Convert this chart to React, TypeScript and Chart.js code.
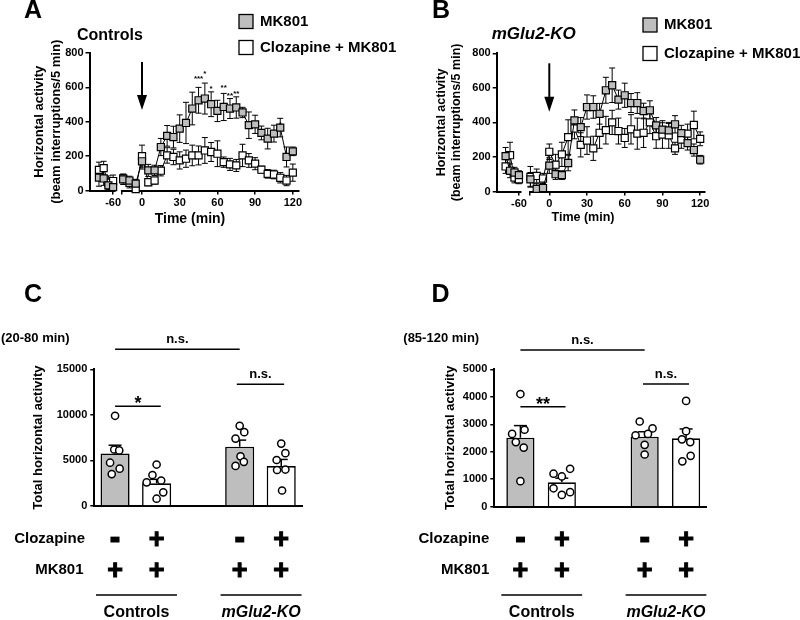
import React, { useEffect, useRef } from 'react';
import { Chart, registerables } from 'chart.js';

Chart.register(...registerables);

const FONT = "'Liberation Sans', Arial, Helvetica, sans-serif";
Chart.defaults.font.family = FONT;
Chart.defaults.color = '#000';

const GRAY = '#bebebe';
const WHITE = '#ffffff';

// ---------------- Panels A & B : time course ----------------
const preTimes = [-75, -70, -65, -60];
const mainTimes = [-15, -10, -5, 0, 5, 10, 15, 20, 25, 30, 35, 40, 45, 50, 55, 60, 65, 70, 75, 80, 85, 90, 95, 100, 105, 110, 115, 120];
const preTicks = [-60];
const timeTicks = [0, 30, 60, 90, 120];
const activityTicks = [0, 200, 400, 600, 800];
const legendLabels = ['MK801', 'Clozapine + MK801'];

// Controls (A)
const ctlMkPre = [75, 70, 30, 20];
const ctlMkPreSem = [50, 40, 35, 30];
const ctlClzPre = [120, 130, 45, 55];
const ctlClzPreSem = [45, 40, 40, 35];
const ctlMk = [65, 58, 40, 170, 117, 117, 253, 318, 311, 360, 393, 477, 525, 535, 502, 463, 486, 477, 483, 454, 380, 385, 335, 302, 331, 366, 195, 228];
const ctlMkSem = [30, 25, 25, 45, 35, 30, 50, 60, 63, 80, 120, 95, 75, 90, 72, 62, 79, 58, 62, 30, 77, 53, 40, 60, 49, 54, 58, 25];
const ctlClz = [70, 45, 8, 200, 48, 58, 115, 204, 195, 175, 185, 204, 204, 233, 224, 214, 165, 152, 146, 204, 175, 156, 121, 97, 93, 74, 58, 104];
const ctlClzSem = [25, 30, 20, 64, 20, 20, 30, 45, 45, 50, 50, 60, 55, 75, 55, 75, 30, 35, 35, 65, 40, 35, 20, 25, 25, 30, 30, 50];
const starTimes = [45, 50, 55, 65, 70, 75, 110];
const starLevels = [648, 680, 590, 595, 550, 565, 385];
const starMarks = ['***', '*', '*', '**', '**', '**', '*'];

// mGlu2-KO (B)
const koMkPre = [205, 120, 110, 95];
const koMkPreSem = [50, 40, 30, 25];
const koClzPre = [145, 210, 80, 70];
const koClzPreSem = [40, 75, 30, 25];
const koMk = [70, 15, 20, 150, 100, 95, 165, 412, 373, 489, 489, 450, 586, 615, 532, 557, 512, 512, 466, 470, 383, 358, 354, 389, 338, 280, 240, 184];
const koMkSem = [40, 30, 25, 45, 30, 25, 45, 60, 55, 70, 65, 60, 75, 100, 55, 70, 55, 60, 45, 55, 45, 40, 40, 50, 45, 40, 35, 25];
const koClz = [85, 90, 75, 230, 155, 215, 315, 365, 270, 295, 250, 340, 355, 400, 350, 310, 360, 335, 340, 400, 320, 330, 325, 250, 300, 335, 385, 305];
const koClzSem = [60, 40, 30, 45, 60, 70, 100, 60, 70, 80, 70, 90, 80, 70, 75, 55, 85, 90, 85, 65, 70, 80, 75, 35, 50, 55, 80, 40];

// ---------------- Panels C & D : totals ----------------
const barGroups = ['Controls MK801', 'Controls Clozapine + MK801', 'mGlu2-KO MK801', 'mGlu2-KO Clozapine + MK801'];
const groupSlots = [0, 1, 3, 4];
const barFills = [GRAY, WHITE, GRAY, WHITE];
const rowLabels = ['Clozapine', 'MK801'];
const clozapineSigns = ['-', '+', '-', '+'];
const mk801Signs = ['+', '+', '+', '+'];
const genotypeLabels = ['Controls', 'mGlu2-KO'];

const meanC = [5770, 2485, 6500, 4380];
const semC = [900, 440, 730, 730];
const dotsC = [
  [9900, 6200, 6100, 4750, 4100, 3500],
  [4550, 3400, 2800, 2600, 1500, 800],
  [8800, 8100, 7400, 5450, 4850, 4400],
  [6850, 5800, 5050, 4000, 3950, 1700],
];
const yTicksC = [0, 5000, 10000, 15000];
const bracketFromC = [0, 0, 2.93];
const bracketToC = [3, 1.1, 4.07];
const bracketLevelC = [17190, 10950, 13360];
const bracketLabelC = ['n.s.', '*', 'n.s.'];

const meanD = [2511, 888, 2548, 2489];
const semD = [440, 150, 180, 340];
const dotsD = [
  [4100, 2800, 2650, 2350, 2150, 930],
  [1380, 1200, 1100, 670, 530, 430],
  [3100, 2850, 2650, 2600, 2250, 1900],
  [3850, 2750, 2450, 2350, 1850, 1650],
];
const yTicksD = [0, 1000, 2000, 3000, 4000, 5000];
const bracketFromD = [0, 0, 2.96];
const bracketToD = [3, 1.09, 4.07];
const bracketLevelD = [5703, 3639, 4465];
const bracketLabelD = ['n.s.', '**', 'n.s.'];

// horizontal scatter of the individual dots inside a bar (layout only)
const jitterC = [
  [0, -0.02, 0.1, -0.12, 0.11, -0.08],
  [0, -0.1, 0.11, -0.24, 0.16, 0],
  [0, 0.11, -0.1, 0.02, 0.1, -0.1],
  [0, 0.1, -0.11, 0.1, -0.1, 0.02],
];
const jitterD = [
  [0, 0.1, -0.2, -0.11, 0.08, 0],
  [0.2, -0.2, 0, -0.2, 0.2, 0],
  [-0.12, 0.19, 0.08, -0.22, 0, 0],
  [0, 0, -0.1, 0.1, 0.11, -0.09],
];

// ---------------- helpers ----------------
type TextOpt = { size: number; bold?: boolean; italic?: boolean; align?: CanvasTextAlign; baseline?: CanvasTextBaseline; rot?: number; thicken?: number };
function drawText(ctx: CanvasRenderingContext2D, s: string, x: number, y: number, o: TextOpt) {
  ctx.save();
  ctx.font = `${o.italic ? 'italic ' : ''}${o.bold === false ? 'normal' : 'bold'} ${o.size}px ${FONT}`;
  ctx.fillStyle = '#000';
  ctx.textAlign = o.align || 'left';
  ctx.textBaseline = o.baseline || 'alphabetic';
  ctx.translate(x, y);
  if (o.rot) ctx.rotate(o.rot);
  ctx.fillText(s, 0, 0);
  if (o.thicken) {
    ctx.strokeStyle = '#000';
    ctx.lineWidth = o.thicken;
    ctx.lineJoin = 'miter';
    ctx.strokeText(s, 0, 0);
  }
  ctx.restore();
}
function seg(ctx: CanvasRenderingContext2D, x1: number, y1: number, x2: number, y2: number, w: number) {
  ctx.save();
  ctx.strokeStyle = '#000';
  ctx.lineWidth = w;
  ctx.beginPath();
  ctx.moveTo(x1, y1);
  ctx.lineTo(x2, y2);
  ctx.stroke();
  ctx.restore();
}

const tickFont = { family: FONT, size: 11, weight: 'bold' as const };
const axisGrid = { display: true, drawOnChartArea: false, drawTicks: true, tickLength: 4, color: '#000', lineWidth: 1.5 };
const axisBorder = { display: true, color: '#000', width: 2 };

type TimeLayout = {
  pad: { left: number; right: number; top: number; bottom: number };
  w: [number, number, number];
  seg1: [number, number];
  seg2: [number, number];
  letterX: number;
  titleX: number; titleY: number; titleSize: number;
  legendX: number; legendY: [number, number]; legendSize: number;
  yTitleX: [number, number]; yTitleSize: number;
  timeTitleX: number; timeTitleY: number; timeTitleSize: number;
  arrow: [number, number];
};
type TimePanel = {
  letter: string; title: string; italic: boolean;
  mkPre: number[]; mkPreSem: number[]; clzPre: number[]; clzPreSem: number[];
  mk: number[]; mkSem: number[]; clz: number[]; clzSem: number[];
  stars: { t: number[]; v: number[]; s: string[] } | null;
  lay: TimeLayout;
};

function buildTime(p: TimePanel): any {
  const L = p.lay;
  const pts = (ts: number[], vs: number[]) => ts.map((t, i) => ({ x: t, y: vs[i] }));
  const line = (data: any[], xAxisID: string, fill: string) => ({
    type: 'line', data, xAxisID, yAxisID: 'y',
    borderColor: '#000', borderWidth: 1, tension: 0, fill: false,
    pointStyle: 'rect', pointRadius: 5, pointHoverRadius: 5,
    pointBackgroundColor: fill, pointBorderColor: '#000', pointBorderWidth: 1.2,
    clip: false,
  });
  const datasets = [
    line(pts(preTimes, p.mkPre), 'x1', GRAY),
    line(pts(mainTimes, p.mk), 'x2', GRAY),
    line(pts(preTimes, p.clzPre), 'x1', WHITE),
    line(pts(mainTimes, p.clz), 'x2', WHITE),
  ];
  const sems = [p.mkPreSem, p.mkSem, p.clzPreSem, p.clzSem];
  const labelled = [...preTicks, ...timeTicks];
  const xAxis = (min: number, max: number, weight: number, ticks: number[] | null) => ({
    type: 'linear', position: 'bottom', stack: 'time', stackWeight: weight, min, max, offset: false,
    afterBuildTicks: (s: any) => { s.ticks = (ticks || [min, max]).map((v) => ({ value: v })); },
    afterFit: (s: any) => { s.height = 20; },
    ticks: {
      display: !!ticks, autoSkip: false, maxRotation: 0, minRotation: 0, color: '#000', font: tickFont, padding: 2,
      callback: (v: any) => (labelled.includes(Number(v)) ? String(v) : ''),
    },
    grid: ticks ? axisGrid : { display: false },
    border: ticks ? axisBorder : { display: false },
  });

  const decor = {
    id: 'decor' + p.letter,
    beforeDatasetsDraw(chart: any) {
      const ctx = chart.ctx as CanvasRenderingContext2D;
      const ys = chart.scales.y;
      ctx.save();
      ctx.strokeStyle = '#000';
      ctx.lineWidth = 1;
      sems.forEach((sem, di) => {
        const meta = chart.getDatasetMeta(di);
        const vals = datasets[di].data as { x: number; y: number }[];
        meta.data.forEach((el: any, j: number) => {
          const v = vals[j].y;
          const e = sem[j];
          const yt = ys.getPixelForValue(v + e);
          const yb = ys.getPixelForValue(Math.max(0, v - e));
          ctx.beginPath();
          ctx.moveTo(el.x, yt); ctx.lineTo(el.x, yb);
          ctx.moveTo(el.x - 3, yt); ctx.lineTo(el.x + 3, yt);
          ctx.moveTo(el.x - 3, yb); ctx.lineTo(el.x + 3, yb);
          ctx.stroke();
        });
      });
      ctx.restore();
    },
    afterDraw(chart: any) {
      const ctx = chart.ctx as CanvasRenderingContext2D;
      const ys = chart.scales.y;
      const x2 = chart.scales.x2;
      const ca = chart.chartArea;
      drawText(ctx, p.letter, L.letterX, 18.3, { size: 25, align: 'center' });
      drawText(ctx, p.title, L.titleX, L.titleY, { size: L.titleSize, italic: p.italic });
      // legend
      [GRAY, WHITE].forEach((fill, i) => {
        const cy = L.legendY[i];
        ctx.save();
        ctx.fillStyle = fill;
        ctx.fillRect(L.legendX, cy - 7, 14, 14);
        ctx.strokeStyle = '#000';
        ctx.lineWidth = 1.3;
        ctx.strokeRect(L.legendX, cy - 7, 14, 14);
        ctx.restore();
        drawText(ctx, legendLabels[i], L.legendX + 21, cy, { size: L.legendSize, baseline: 'middle' });
      });
      // y title (two lines)
      const cy = (ca.top + ca.bottom) / 2;
      drawText(ctx, 'Horizontal activity', L.yTitleX[0], cy, { size: L.yTitleSize, align: 'center', baseline: 'middle', rot: -Math.PI / 2 });
      drawText(ctx, '(beam interruptions/5 min)', L.yTitleX[1], cy, { size: L.yTitleSize, align: 'center', baseline: 'middle', rot: -Math.PI / 2 });
      drawText(ctx, 'Time (min)', L.timeTitleX, L.timeTitleY, { size: L.timeTitleSize, align: 'center', baseline: 'middle' });
      // injection arrow
      const ax = x2.getPixelForValue(0);
      const ya = ys.getPixelForValue(L.arrow[0]);
      const yb = ys.getPixelForValue(L.arrow[1]);
      seg(ctx, ax, ya, ax, yb - 12, 2);
      ctx.save();
      ctx.fillStyle = '#000';
      ctx.beginPath();
      ctx.moveTo(ax - 5, yb - 15);
      ctx.lineTo(ax + 5, yb - 15);
      ctx.lineTo(ax, yb);
      ctx.closePath();
      ctx.fill();
      ctx.restore();
      // significance stars
      if (p.stars) {
        p.stars.t.forEach((t, i) => {
          drawText(ctx, p.stars!.s[i], x2.getPixelForValue(t), ys.getPixelForValue(p.stars!.v[i]), { size: 8, align: 'center', baseline: 'middle' });
        });
      }
    },
  };

  return {
    type: 'line',
    data: { datasets },
    options: {
      animation: false, responsive: false, maintainAspectRatio: false, devicePixelRatio: 1, events: [],
      layout: { padding: L.pad },
      plugins: { legend: { display: false }, tooltip: { enabled: false }, title: { display: false } },
      scales: {
        x1: xAxis(L.seg1[0], L.seg1[1], L.w[0], preTicks),
        xg: xAxis(0, 1, L.w[1], null),
        x2: xAxis(L.seg2[0], L.seg2[1], L.w[2], [L.seg2[0], ...timeTicks]),
        y: {
          type: 'linear', position: 'left', min: 0, max: 800,
          afterBuildTicks: (s: any) => { s.ticks = activityTicks.map((v) => ({ value: v })); },
          afterFit: (s: any) => { s.width = 50; },
          ticks: { color: '#000', font: tickFont, padding: 2, callback: (v: any) => String(v) },
          grid: axisGrid, border: axisBorder,
        },
      },
    },
    plugins: [decor],
  };
}

type BarLayout = {
  pad: { left: number; right: number; top: number; bottom: number };
  xMin: number; xMax: number; barPct: number;
  letterX: number; windowX: number; yTitleX: number;
  rowLabelX: [number, number];
};
type BarPanel = {
  letter: string; window: string;
  means: number[]; sems: number[]; dots: number[][]; jitter: number[][];
  yTicks: number[];
  brFrom: number[]; brTo: number[]; brLevel: number[]; brLabel: string[];
  lay: BarLayout;
};

function buildBars(p: BarPanel): any {
  const L = p.lay;
  const dots = p.dots.flatMap((vals, g) => vals.map((v, k) => ({ x: groupSlots[g] + p.jitter[g][k], y: v })));
  const bars = p.means.map((m, g) => ({ x: groupSlots[g], y: m }));
  const decor = {
    id: 'bars' + p.letter,
    afterDatasetDraw(chart: any, args: any) {
      if (args.index !== 1) return;
      const ctx = chart.ctx as CanvasRenderingContext2D;
      const ys = chart.scales.y;
      const meta = chart.getDatasetMeta(1);
      meta.data.forEach((el: any, g: number) => {
        const top = ys.getPixelForValue(p.means[g]);
        const yt = ys.getPixelForValue(p.means[g] + p.sems[g]);
        seg(ctx, el.x, top, el.x, yt, 1.5);
        seg(ctx, el.x - 6.5, yt, el.x + 6.5, yt, 1.5);
      });
    },
    afterDraw(chart: any) {
      const ctx = chart.ctx as CanvasRenderingContext2D;
      const xs = chart.scales.x;
      const ys = chart.scales.y;
      const ca = chart.chartArea;
      drawText(ctx, p.letter, L.letterX, 21.7, { size: 25, align: 'center' });
      drawText(ctx, p.window, L.windowX, 58, { size: 13, baseline: 'middle' });
      drawText(ctx, 'Total horizontal activity', L.yTitleX, (ca.top + ca.bottom) / 2, { size: 13, align: 'center', baseline: 'middle', rot: -Math.PI / 2 });
      // comparison brackets
      p.brLabel.forEach((lab, i) => {
        const y = ys.getPixelForValue(p.brLevel[i]);
        const xa = xs.getPixelForValue(p.brFrom[i]);
        const xb = xs.getPixelForValue(p.brTo[i]);
        seg(ctx, xa, y, xb, y, 1.5);
        if (lab.startsWith('*')) {
          drawText(ctx, lab, (xa + xb) / 2, y + 3, { size: 18, align: 'center' });
        } else {
          drawText(ctx, lab, (xa + xb) / 2, y - 6, { size: 13, align: 'center' });
        }
      });
      // treatment rows
      const rowY = [259, 290];
      [clozapineSigns, mk801Signs].forEach((signs, r) => {
        drawText(ctx, rowLabels[r], L.rowLabelX[r], rowY[r], { size: 15, align: 'right', baseline: 'middle' });
        signs.forEach((s, g) => {
          const x = xs.getPixelForValue(groupSlots[g]);
          const size = s === '+' ? 27 : 24;
          const off = s === '+' ? 0.345 : 0.275;
          drawText(ctx, s, x, rowY[r] + off * size, { size, align: 'center', thicken: s === '+' ? 1 : 3 });
        });
      });
      // genotype groups
      genotypeLabels.forEach((lab, k) => {
        const a = xs.getPixelForValue(groupSlots[2 * k] - 0.46);
        const b = xs.getPixelForValue(groupSlots[2 * k + 1] + 0.49);
        seg(ctx, a, 315, b, 315, 1.5);
        drawText(ctx, lab, (a + b) / 2, 333, { size: 16, italic: k === 1, align: 'center', baseline: 'middle' });
      });
    },
  };
  return {
    type: 'bar',
    data: {
      datasets: [
        {
          type: 'scatter', label: 'animals', data: dots, xAxisID: 'x', yAxisID: 'y', order: 0,
          pointStyle: 'circle', pointRadius: 3.6, pointHoverRadius: 3.6,
          pointBackgroundColor: WHITE, pointBorderColor: '#000', pointBorderWidth: 1.5, clip: false,
        },
        {
          type: 'bar', label: 'mean', data: bars, xAxisID: 'x', yAxisID: 'y', order: 1,
          backgroundColor: barFills, borderColor: '#000', borderWidth: 1.6,
          barPercentage: L.barPct, categoryPercentage: 1,
        },
      ],
    },
    options: {
      animation: false, responsive: false, maintainAspectRatio: false, devicePixelRatio: 1, events: [],
      layout: { padding: L.pad },
      plugins: { legend: { display: false }, tooltip: { enabled: false }, title: { display: false } },
      scales: {
        x: {
          type: 'linear', position: 'bottom', min: L.xMin, max: L.xMax, offset: false,
          afterBuildTicks: (s: any) => { s.ticks = groupSlots.map((v) => ({ value: v })); },
          afterFit: (s: any) => { s.height = 10; },
          ticks: { display: false },
          grid: { display: false },
          border: axisBorder,
        },
        y: {
          type: 'linear', position: 'left', min: 0, max: p.yTicks[p.yTicks.length - 1],
          afterBuildTicks: (s: any) => { s.ticks = p.yTicks.map((v) => ({ value: v })); },
          afterFit: (s: any) => { s.width = 50; },
          ticks: { color: '#000', font: tickFont, padding: 3, callback: (v: any) => String(v) },
          grid: axisGrid, border: axisBorder,
        },
      },
    },
    plugins: [decor],
  };
}

// ---------------- panel definitions ----------------
const panelA: TimePanel = {
  letter: 'A', title: 'Controls', italic: false,
  mkPre: ctlMkPre, mkPreSem: ctlMkPreSem, clzPre: ctlClzPre, clzPreSem: ctlClzPreSem,
  mk: ctlMk, mkSem: ctlMkSem, clz: ctlClz, clzSem: ctlClzSem,
  stars: { t: starTimes, v: starLevels, s: starMarks },
  lay: {
    pad: { left: 39.5, right: 100.9, top: 53, bottom: 24.5 },
    w: [25.5, 6.9, 177.2], seg1: [-85, -58], seg2: [-16, 125],
    letterX: 33, titleX: 77, titleY: 40, titleSize: 16,
    legendX: 239, legendY: [21.5, 47.5], legendSize: 15,
    yTitleX: [39, 56.5], yTitleSize: 13,
    timeTitleX: 190, timeTitleY: 219, timeTitleSize: 14,
    arrow: [748, 468],
  },
};
const panelB: TimePanel = {
  letter: 'B', title: 'mGlu2-KO', italic: true,
  mkPre: koMkPre, mkPreSem: koMkPreSem, clzPre: koClzPre, clzPreSem: koClzPreSem,
  mk: koMk, mkSem: koMkSem, clz: koClz, clzSem: koClzSem,
  stars: null,
  lay: {
    pad: { left: 46.7, right: 94.8, top: 53.3, bottom: 23.5 },
    w: [24, 9.1, 175.4], seg1: [-85, -58], seg2: [-15.5, 124],
    letterX: 41, titleX: 91.7, titleY: 38.5, titleSize: 17,
    legendX: 243, legendY: [25, 53.5], legendSize: 15,
    yTitleX: [42, 57], yTitleSize: 12.5,
    timeTitleX: 183, timeTitleY: 218, timeTitleSize: 12.5,
    arrow: [742, 462],
  },
};
const panelC: BarPanel = {
  letter: 'C', window: '(20-80 min)',
  means: meanC, sems: semC, dots: dotsC, jitter: jitterC, yTicks: yTicksC,
  brFrom: bracketFromC, brTo: bracketToC, brLevel: bracketLevelC, brLabel: bracketLabelC,
  lay: {
    pad: { left: 44.3, right: 98, top: 89.3, bottom: 104 },
    xMin: -0.5, xMax: 4.5, barPct: 0.7,
    letterX: 33, windowX: 1, yTitleX: 38.5, rowLabelX: [85, 83.5],
  },
};
const panelD: BarPanel = {
  letter: 'D', window: '(85-120 min)',
  means: meanD, sems: semD, dots: dotsD, jitter: jitterD, yTicks: yTicksD,
  brFrom: bracketFromD, brTo: bracketToD, brLevel: bracketLevelD, brLabel: bracketLabelD,
  lay: {
    pad: { left: 44.3, right: 93.2, top: 89.3, bottom: 103.3 },
    xMin: -0.63, xMax: 4.5, barPct: 0.68,
    letterX: 40.5, windowX: 3.3, yTitleX: 50.5, rowLabelX: [89.3, 89.3],
  },
};

type Box = { left: number; top: number; width: number; height: number };
function ChartCanvas({ box, build }: { box: Box; build: () => any }) {
  const ref = useRef<HTMLCanvasElement | null>(null);
  useEffect(() => {
    if (!ref.current) return;
    const chart = new Chart(ref.current, build());
    return () => chart.destroy();
  }, []);
  return (
    <canvas
      ref={ref}
      width={box.width}
      height={box.height}
      style={{ position: 'absolute', left: box.left, top: box.top, width: box.width, height: box.height, display: 'block' }}
    />
  );
}

export default function App() {
  return (
    <div style={{ position: 'absolute', left: 0, top: 0, width: 800, height: 620, background: '#fff', overflow: 'hidden' }}>
      <ChartCanvas box={{ left: 0, top: 0, width: 400, height: 235 }} build={() => buildTime(panelA)} />
      <ChartCanvas box={{ left: 400, top: 0, width: 400, height: 235 }} build={() => buildTime(panelB)} />
      <ChartCanvas box={{ left: 0, top: 280, width: 400, height: 340 }} build={() => buildBars(panelC)} />
      <ChartCanvas box={{ left: 400, top: 280, width: 400, height: 340 }} build={() => buildBars(panelD)} />
    </div>
  );
}
